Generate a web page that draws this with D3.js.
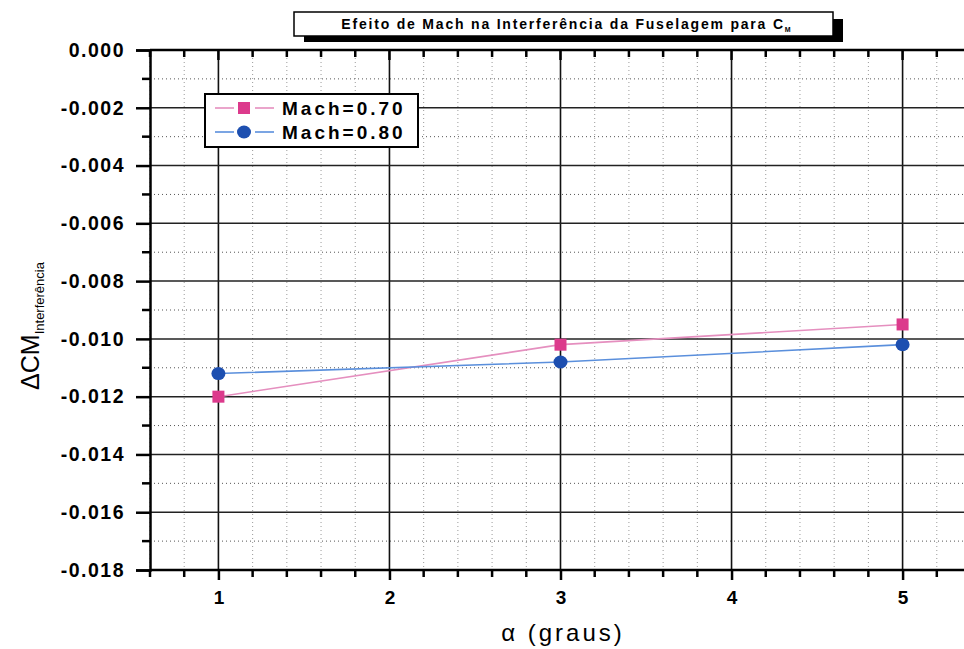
<!DOCTYPE html>
<html>
<head>
<meta charset="utf-8">
<script src="https://cdn.jsdelivr.net/npm/d3@7"></script>
<style>
  html, body { margin: 0; padding: 0; background: #fff; }
  svg { display: block; font-family: Arial, "Liberation Sans", sans-serif; }
</style>
</head>
<body>
<svg id="chart" width="964" height="649"></svg>
<script>
// Angle of attack (degrees)
const alpha = [1, 3, 5];
// Fuselage interference on the moment coefficient, per Mach number
const mach070 = [-0.0120, -0.0102, -0.0095];
const mach080 = [-0.0112, -0.0108, -0.0102];
const seriesNames = ["Mach=0.70", "Mach=0.80"];
const xTickValues = [1, 2, 3, 4, 5];
const yTickValues = [0, -0.002, -0.004, -0.006, -0.008, -0.010, -0.012, -0.014, -0.016, -0.018];

const svg = d3.select("#chart");
const plotLeft = 150, plotTop = 50, plotBottom = 570;

const x = d3.scaleLinear().domain([0.6, 5.4]).range([plotLeft, 971]);
const y = d3.scaleLinear().domain([0, -0.018]).range([plotTop, plotBottom]);

const xMinor = d3.range(0.6, 5.41, 0.2).map(v => +v.toFixed(1));
const yMinor = d3.range(0, -0.0181, -0.001).map(v => +v.toFixed(3));
const isInt = v => Math.abs(v - Math.round(v)) < 1e-6;
const isOddMil = v => Math.abs(Math.round(v * 1000)) % 2 === 1;

// grid: dotted minors, solid majors
const grid = svg.append("g");
xMinor.filter(v => !isInt(v)).forEach(v => {
  grid.append("line").attr("x1", x(v)).attr("x2", x(v)).attr("y1", plotTop).attr("y2", plotBottom)
    .attr("stroke", "#9a9a9a").attr("stroke-width", 1).attr("stroke-dasharray", "1,3");
});
yMinor.filter(isOddMil).forEach(v => {
  grid.append("line").attr("x1", plotLeft).attr("x2", 964).attr("y1", y(v)).attr("y2", y(v))
    .attr("stroke", "#555").attr("stroke-width", 1).attr("stroke-dasharray", "1,3");
});
xTickValues.forEach(v => {
  grid.append("line").attr("x1", x(v)).attr("x2", x(v)).attr("y1", plotTop).attr("y2", plotBottom)
    .attr("stroke", "#111").attr("stroke-width", 1.6);
});
yTickValues.slice(1, -1).forEach(v => {
  grid.append("line").attr("x1", plotLeft).attr("x2", 964).attr("y1", y(v)).attr("y2", y(v))
    .attr("stroke", "#222").attr("stroke-width", 1.5);
});

// axes
const fmt = d3.format(".3f");
const yAxis = d3.axisLeft(y).tickValues(yTickValues).tickSize(14).tickPadding(11)
  .tickFormat(d => d === 0 ? "0.000" : "-" + fmt(-d));
const gy = svg.append("g").attr("transform", `translate(${plotLeft},0)`).call(yAxis);
gy.selectAll("text").attr("font-size", 19.5).attr("font-weight", "bold").attr("fill", "#000")
  .attr("letter-spacing", 1.5);
gy.append("g").selectAll("line").data(yMinor.filter(isOddMil))
  .join("line").attr("x1", -8).attr("x2", 0).attr("y1", d => y(d)).attr("y2", d => y(d))
  .attr("stroke", "#000").attr("stroke-width", 2.5);

const xAxis = d3.axisBottom(x).tickValues(xTickValues).tickSize(10).tickPadding(11)
  .tickFormat(d3.format("d"));
const gx = svg.append("g").attr("transform", `translate(0,${plotBottom})`).call(xAxis);
gx.selectAll("text").attr("font-size", 19).attr("font-weight", "bold").attr("fill", "#000");
gx.append("g").selectAll("line").data(xMinor.filter(v => !isInt(v)))
  .join("line").attr("x1", d => x(d)).attr("x2", d => x(d)).attr("y1", 0).attr("y2", 7)
  .attr("stroke", "#000").attr("stroke-width", 2.5);

// top axis with inward ticks
const gt = svg.append("g").attr("transform", `translate(0,${plotTop})`);
gt.append("line").attr("x1", plotLeft).attr("x2", 964).attr("y1", 0).attr("y2", 0)
  .attr("stroke", "#000").attr("stroke-width", 2.5);
gt.selectAll("line.t").data(xMinor).join("line").attr("class", "t")
  .attr("x1", d => x(d)).attr("x2", d => x(d)).attr("y1", 0)
  .attr("y2", d => isInt(d) ? 10 : 7)
  .attr("stroke", "#000").attr("stroke-width", 2.5);

[gy, gx].forEach(g => {
  g.select(".domain").attr("stroke", "#000").attr("stroke-width", 2.5);
  g.selectAll(".tick line").attr("stroke", "#000").attr("stroke-width", 2.5);
});
gx.select(".domain").attr("d", `M${plotLeft},0H964`);

// series
const series = [
  { name: seriesNames[0], values: mach070, line: "#e58fbf", mark: "#dc3a8c", shape: "square" },
  { name: seriesNames[1], values: mach080, line: "#5a8fdc", mark: "#1d4fb0", shape: "circle" }
];
const lineGen = d3.line().x(d => x(d[0])).y(d => y(d[1]));
const drawMarker = (g, s, cx, cy) => {
  if (s.shape === "square") {
    g.append("rect").attr("x", cx - 6).attr("y", cy - 6).attr("width", 12).attr("height", 12)
      .attr("fill", s.mark);
  } else {
    g.append("ellipse").attr("cx", cx).attr("cy", cy).attr("rx", 7).attr("ry", 6.5)
      .attr("fill", s.mark);
  }
};
series.forEach(s => {
  const pts = alpha.map((a, i) => [a, s.values[i]]);
  svg.append("path").datum(pts).attr("d", lineGen).attr("fill", "none")
    .attr("stroke", s.line).attr("stroke-width", 1.6);
  const g = svg.append("g");
  pts.forEach(p => drawMarker(g, s, x(p[0]), y(p[1])));
});

// legend
const lg = svg.append("g").attr("transform", "translate(205,94)");
lg.append("rect").attr("width", 213).attr("height", 53).attr("fill", "#fff")
  .attr("stroke", "#000").attr("stroke-width", 2);
series.forEach((s, i) => {
  const cy = 14 + i * 24;
  [[10, 29], [50, 69]].forEach(([a, b]) => {
    lg.append("line").attr("x1", a).attr("x2", b).attr("y1", cy).attr("y2", cy)
      .attr("stroke", s.line).attr("stroke-width", 1.6);
  });
  drawMarker(lg, s, 39, cy);
  lg.append("text").attr("x", 77).attr("y", cy + 7).text(s.name)
    .attr("font-size", 19).attr("font-weight", "bold").attr("letter-spacing", 3);
});

// title box with drop shadow
const tg = svg.append("g");
tg.append("rect").attr("x", 304).attr("y", 19).attr("width", 539).attr("height", 23).attr("fill", "#000");
tg.append("rect").attr("x", 294).attr("y", 12).attr("width", 539).attr("height", 24)
  .attr("fill", "#fff").attr("stroke", "#000").attr("stroke-width", 1.5);
const tt = tg.append("text").attr("x", 566).attr("y", 29).attr("text-anchor", "middle")
  .attr("font-size", 14).attr("font-weight", "bold").attr("letter-spacing", 1.8);
tt.append("tspan").text("Efeito de Mach na Interferência da Fuselagem para C");
tt.append("tspan").attr("font-size", 7).attr("dy", 3).attr("letter-spacing", 0).text("M");

// axis titles
svg.append("text").attr("x", 563).attr("y", 641).attr("text-anchor", "middle")
  .attr("font-size", 24).attr("letter-spacing", 3).text("α (graus)");
const yt = svg.append("text").attr("transform", "translate(39,326) rotate(-90)")
  .attr("text-anchor", "middle").attr("font-size", 25);
yt.append("tspan").text("ΔCM");
yt.append("tspan").attr("font-size", 13).attr("dy", 5).text("Interferência");
</script>
</body>
</html>
